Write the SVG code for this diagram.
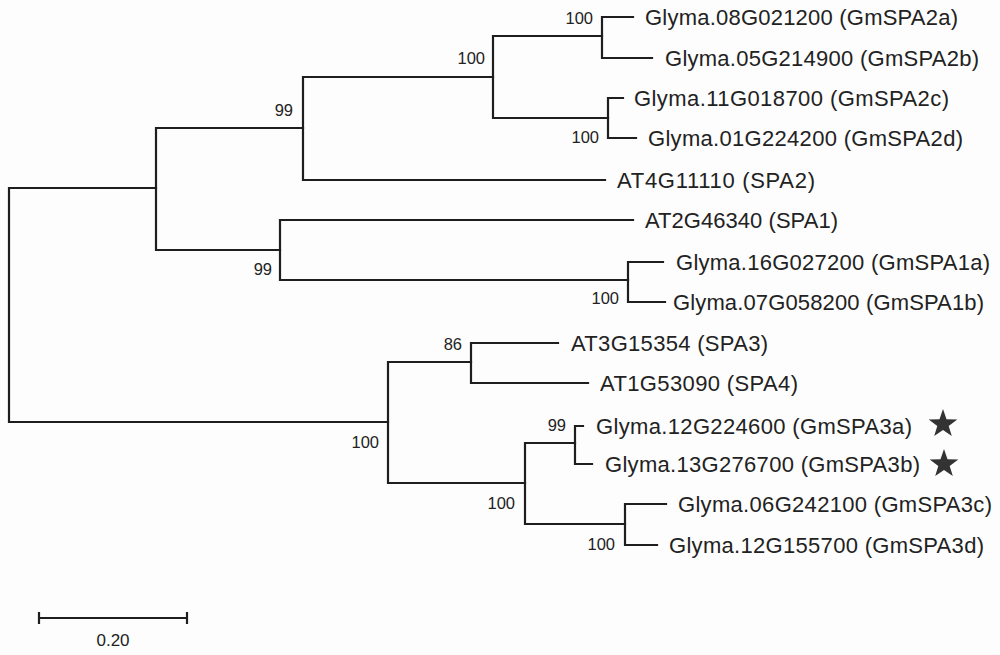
<svg xmlns="http://www.w3.org/2000/svg" width="1000" height="655" viewBox="0 0 1000 655">
<style>
.br{fill:none;stroke:#1e1e1e;stroke-width:2.2;stroke-linejoin:miter;stroke-linecap:square}
.lf{font-family:"Liberation Sans",Arial,sans-serif;font-size:22px;fill:#222}
.bs{font-family:"Liberation Sans",Arial,sans-serif;font-size:16.5px;fill:#222;text-anchor:end}
.star{fill:#333}
</style>
<rect x="0" y="0" width="1000" height="655" fill="#fdfdfd"/>
<g id="connectors">
<path class="br" d="M156,188 H9 V422 H388"/>
<path class="br" d="M303,128 H156 V250 H280"/>
<path class="br" d="M493,77 H303 V180 H605"/>
<path class="br" d="M602,36 H493 V118 H608"/>
<path class="br" d="M633,17 H602 V58 H652"/>
<path class="br" d="M623,98 H608 V138 H636"/>
<path class="br" d="M633,220 H280 V280 H628"/>
<path class="br" d="M663,262 H628 V302 H665"/>
<path class="br" d="M471,362 H388 V483 H525"/>
<path class="br" d="M558,343 H471 V383 H588"/>
<path class="br" d="M575,443 H525 V524 H625"/>
<path class="br" d="M583,426 H575 V464 H592"/>
<path class="br" d="M666,504 H625 V545 H657"/>
</g>
<g id="bootstrap">
<text class="bs" x="593" y="24">100</text>
<text class="bs" x="485" y="64">100</text>
<text class="bs" x="599" y="143">100</text>
<text class="bs" x="293" y="116">99</text>
<text class="bs" x="272" y="275">99</text>
<text class="bs" x="619" y="304">100</text>
<text class="bs" x="462" y="350">86</text>
<text class="bs" x="379" y="448">100</text>
<text class="bs" x="566" y="431">99</text>
<text class="bs" x="515" y="509">100</text>
<text class="bs" x="615" y="550">100</text>
</g>
<g id="leaf-GmSPA2a"><text class="lf" x="645" y="25" textLength="313" lengthAdjust="spacing">Glyma.08G021200 (GmSPA2a)</text></g>
<g id="leaf-GmSPA2b"><text class="lf" x="665" y="66" textLength="314" lengthAdjust="spacing">Glyma.05G214900 (GmSPA2b)</text></g>
<g id="leaf-GmSPA2c"><text class="lf" x="634" y="106" textLength="315" lengthAdjust="spacing">Glyma.11G018700 (GmSPA2c)</text></g>
<g id="leaf-GmSPA2d"><text class="lf" x="648" y="146" textLength="315" lengthAdjust="spacing">Glyma.01G224200 (GmSPA2d)</text></g>
<g id="leaf-SPA2"><text class="lf" x="617" y="188" textLength="198" lengthAdjust="spacing">AT4G11110 (SPA2)</text></g>
<g id="leaf-SPA1"><text class="lf" x="645" y="228" textLength="193" lengthAdjust="spacing">AT2G46340 (SPA1)</text></g>
<g id="leaf-GmSPA1a"><text class="lf" x="676" y="270" textLength="314" lengthAdjust="spacing">Glyma.16G027200 (GmSPA1a)</text></g>
<g id="leaf-GmSPA1b"><text class="lf" x="673" y="310" textLength="311" lengthAdjust="spacing">Glyma.07G058200 (GmSPA1b)</text></g>
<g id="leaf-SPA3"><text class="lf" x="571" y="351" textLength="197" lengthAdjust="spacing">AT3G15354 (SPA3)</text></g>
<g id="leaf-SPA4"><text class="lf" x="600" y="391" textLength="198" lengthAdjust="spacing">AT1G53090 (SPA4)</text></g>
<g id="leaf-GmSPA3a"><text class="lf" x="596" y="434" textLength="316" lengthAdjust="spacing">Glyma.12G224600 (GmSPA3a)</text>
<polygon class="star" transform="translate(943,424)" points="0,-15 3.5,-4.8 14.3,-4.6 5.7,1.9 8.8,12.1 0,6 -8.8,12.1 -5.7,1.9 -14.3,-4.6 -3.5,-4.8"/></g>
<g id="leaf-GmSPA3b"><text class="lf" x="605" y="472" textLength="315" lengthAdjust="spacing">Glyma.13G276700 (GmSPA3b)</text>
<polygon class="star" transform="translate(944,464)" points="0,-15 3.5,-4.8 14.3,-4.6 5.7,1.9 8.8,12.1 0,6 -8.8,12.1 -5.7,1.9 -14.3,-4.6 -3.5,-4.8"/></g>
<g id="leaf-GmSPA3c"><text class="lf" x="678" y="512" textLength="314" lengthAdjust="spacing">Glyma.06G242100 (GmSPA3c)</text></g>
<g id="leaf-GmSPA3d"><text class="lf" x="669" y="553" textLength="315" lengthAdjust="spacing">Glyma.12G155700 (GmSPA3d)</text></g>
<g id="scale">
<path class="br" d="M39,618 H187 M39,612 V624 M187,612 V624" style="stroke-linecap:butt"/>
<text x="113" y="646" text-anchor="middle" style="font-family:'Liberation Sans',Arial,sans-serif;font-size:17px;fill:#222">0.20</text>
</g>
</svg>
